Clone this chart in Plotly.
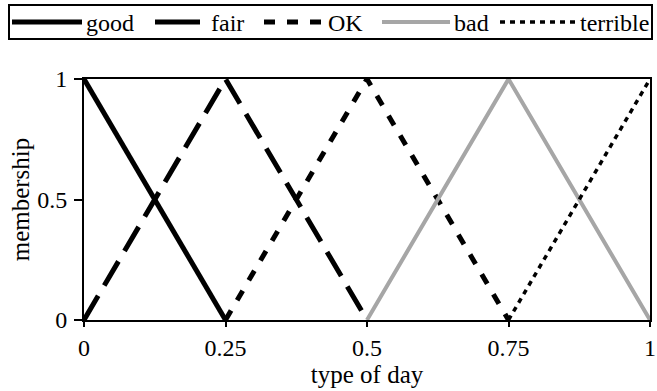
import plotly.graph_objects as go

# ---- data ----
series_names = ["good", "fair", "OK", "bad", "terrible"]
good_x = [0, 0.25]
good_y = [1, 0]
fair_x = [0, 0.25, 0.5]
fair_y = [0, 1, 0]
ok_x = [0.25, 0.5, 0.75]
ok_y = [0, 1, 0]
bad_x = [0.5, 0.75, 1]
bad_y = [0, 1, 0]
terrible_x = [0.75, 1]
terrible_y = [0, 1]
x_ticks = [0, 0.25, 0.5, 0.75, 1]
x_tick_labels = ["0", "0.25", "0.5", "0.75", "1"]
y_ticks = [0, 0.5, 1]
y_tick_labels = ["0", "0.5", "1"]

W, H = 657, 391
PL, PR, PT, PB = 84, 650, 79, 320          # plot box in window pixels
ML, MR, MT, MB = PL, W - PR, PT, H - PB
PW, PH = W - ML - MR, H - MT - MB

def px(x):
    return (x - ML) / PW

def py(y):
    return (H - MB - y) / PH

styles = [
    dict(color="black", width=5, dash="solid"),
    dict(color="black", width=5, dash="28px,12px"),
    dict(color="black", width=5, dash="11px,12px"),
    dict(color="#a6a6a6", width=4, dash="solid"),
    dict(color="black", width=3.5, dash="5px,5px"),
]
legend_dash = ["solid", "solid", "11px,12px", "solid", "5px,5px"]
data = [(good_x, good_y), (fair_x, fair_y), (ok_x, ok_y), (bad_x, bad_y), (terrible_x, terrible_y)]

fig = go.Figure()
for name, (xs, ys), st in zip(series_names, data, styles):
    fig.add_trace(go.Scatter(x=xs, y=ys, mode="lines", name=name, line=st,
                             cliponaxis=False, showlegend=False, hoverinfo="skip"))

serif = "Liberation Serif"

# manual legend (decoration)
shapes = [dict(type="rect", xref="paper", yref="paper",
               x0=px(9), x1=px(652), y0=py(39), y1=py(5),
               line=dict(color="black", width=2), fillcolor="white")]
annotations = []
legend_items = [(12, 82, 84), (155, 200, 209), (264, 322, 326), (382, 450, 452), (500, 575, 578)]
for name, st, ld, (l0, l1, tx) in zip(series_names, styles, legend_dash, legend_items):
    shapes.append(dict(type="line", xref="paper", yref="paper",
                       x0=px(l0), x1=px(l1), y0=py(22), y1=py(22),
                       line=dict(color=st["color"], width=st["width"], dash=ld)))
    annotations.append(dict(text=name, xref="paper", yref="paper", x=px(tx), y=py(23),
                            xanchor="left", yanchor="middle", showarrow=False,
                            font=dict(family=serif, size=24, color="black")))

fig.update_layout(
    width=W, height=H,
    margin=dict(l=ML, r=MR, t=MT, b=MB, autoexpand=False),
    paper_bgcolor="white", plot_bgcolor="white",
    font=dict(family=serif, size=24, color="black"),
    shapes=shapes, annotations=annotations,
    showlegend=False,
)
axis_common = dict(range=[0, 1], showgrid=False, zeroline=False, showline=True,
                   linecolor="black", linewidth=2, mirror=True, ticks="outside",
                   tickwidth=2, tickcolor="black", automargin=False,
                   tickfont=dict(family=serif, size=24, color="black"))
fig.update_xaxes(tickvals=x_ticks, ticktext=x_tick_labels, ticklen=5, ticklabelstandoff=0,
                 title=dict(text="type of day", standoff=4,
                            font=dict(family=serif, size=25, color="black")),
                 **axis_common)
fig.update_yaxes(tickvals=y_ticks, ticktext=y_tick_labels, ticklen=8, ticklabelstandoff=2,
                 title=dict(text="membership", standoff=0,
                            font=dict(family=serif, size=25, color="black")),
                 **axis_common)

fig.write_html("out.html", config={"displayModeBar": False},
               post_script="document.body.style.margin='0';document.body.style.overflow='hidden';")
